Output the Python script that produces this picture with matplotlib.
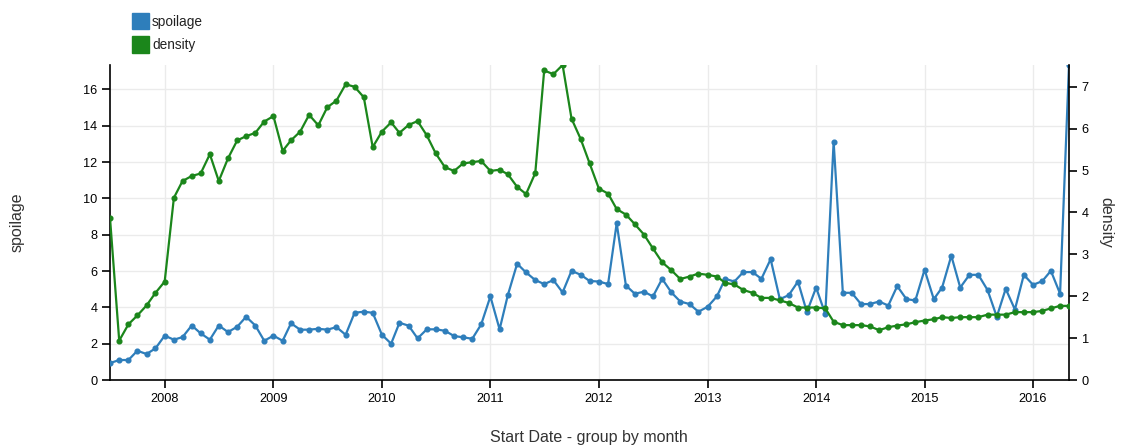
import matplotlib
matplotlib.use("Agg")
import matplotlib.pyplot as plt
import matplotlib.dates as mdates
from matplotlib.patches import Rectangle
import pandas as pd

start_month = "2007-07-01"

spoilage = [0.93, 1.10, 1.10, 1.61, 1.43, 1.74, 2.44, 2.22, 2.36, 3.00, 2.57, 2.22, 3.00, 2.64,
            2.93, 3.48, 3.00, 2.16, 2.44, 2.16, 3.12, 2.77, 2.77, 2.82, 2.77, 2.91, 2.49,
            3.70, 3.76, 3.70, 2.49, 2.00, 3.15, 2.99, 2.29, 2.79, 2.79, 2.71, 2.42, 2.35, 2.27,
            3.06, 4.60, 2.79, 4.69, 6.40, 5.92, 5.50, 5.28, 5.50, 4.82, 6.01, 5.79, 5.45,
            5.42, 5.28, 8.63, 5.20, 4.75, 4.86, 4.60, 5.57, 4.82, 4.32, 4.18, 3.76, 4.03, 4.60,
            5.57, 5.42, 5.94, 5.94, 5.57, 6.65, 4.45, 4.67, 5.42, 3.74, 5.09, 3.63,
            13.12, 4.80, 4.80, 4.18, 4.18, 4.32, 4.10, 5.17, 4.45, 4.38, 6.07, 4.45, 5.09, 6.84,
            5.09, 5.79, 5.79, 4.95, 3.48, 5.02, 3.88, 5.79, 5.24, 5.44, 6.01, 4.75, 17.34]

density = [3.87, 0.94, 1.33, 1.54, 1.78, 2.08, 2.35, 4.35, 4.75, 4.87, 4.93, 5.39, 4.75, 5.29,
           5.72, 5.82, 5.90, 6.17, 6.30, 5.47, 5.72, 5.93, 6.33, 6.08, 6.51, 6.67, 7.06,
           7.00, 6.75, 5.56, 5.93, 6.15, 5.90, 6.09, 6.18, 5.84, 5.41, 5.08, 4.99, 5.17, 5.20,
           5.23, 4.99, 5.02, 4.91, 4.61, 4.44, 4.94, 7.39, 7.30, 7.52, 6.24, 5.75, 5.17,
           4.57, 4.45, 4.08, 3.95, 3.72, 3.47, 3.14, 2.81, 2.62, 2.41, 2.47, 2.54, 2.51, 2.47,
           2.32, 2.28, 2.15, 2.08, 1.96, 1.96, 1.90, 1.84, 1.73, 1.73, 1.73, 1.71,
           1.39, 1.31, 1.31, 1.31, 1.28, 1.19, 1.26, 1.30, 1.33, 1.38, 1.42, 1.45, 1.50, 1.48,
           1.50, 1.50, 1.50, 1.56, 1.56, 1.56, 1.62, 1.62, 1.62, 1.65, 1.71, 1.77, 1.77]

left_ticks = [0, 2, 4, 6, 8, 10, 12, 14, 16]
right_ticks = [0, 1, 2, 3, 4, 5, 6, 7]
series_names = ["spoilage", "density"]
x_title = "Start Date - group by month"

dates = pd.date_range(start_month, periods=len(spoilage), freq="MS")

BLUE = "#2e7ebb"
GREEN = "#1b861b"
plt.rcParams["font.family"] = ["Liberation Sans", "DejaVu Sans"]

W, H = 1121, 448
fig = plt.figure(figsize=(W / 100, H / 100), dpi=100)
L, R, T, B = 110, 1069, 65, 380
ax = fig.add_axes([L / W, 1 - B / H, (R - L) / W, (B - T) / H])
ax2 = ax.twinx()

ax.plot(dates, spoilage, color=BLUE, lw=1.6, marker="o", ms=3.4, zorder=3)
ax2.plot(dates, density, color=GREEN, lw=1.6, marker="o", ms=3.4, zorder=3)

ax.set_xlim(dates[0], dates[-1])
ax.set_ylim(0, max(spoilage))
ax2.set_ylim(0, max(density))
ax.set_yticks(left_ticks)
ax2.set_yticks(right_ticks)
ax.xaxis.set_major_locator(mdates.YearLocator())
ax.xaxis.set_major_formatter(mdates.DateFormatter("%Y"))

ax.grid(True, color="#ebebeb", lw=1)
ax.set_axisbelow(True)
for a in (ax, ax2):
    a.spines["top"].set_visible(False)
    for s in ("left", "right", "bottom"):
        a.spines[s].set_color("black")
        a.spines[s].set_linewidth(1.2)
    a.tick_params(direction="out", length=6, width=1.2, labelsize=9.2, colors="black", pad=3)
ax.spines["right"].set_visible(False)
ax2.spines["left"].set_visible(False)
ax2.spines["bottom"].set_visible(False)

fig.text(17 / W, 1 - 222 / H, "spoilage", rotation=90, ha="center", va="center",
         fontsize=11.5, color="#333333")
fig.text(1106 / W, 1 - 222 / H, "density", rotation=270, ha="center", va="center",
         fontsize=11.5, color="#333333")
fig.text(589 / W, 1 - 437 / H, x_title, ha="center", va="center", fontsize=11.5, color="#333333")

for k, (name, col) in enumerate(zip(series_names, [BLUE, GREEN])):
    y0 = 13 + k * 23.5
    fig.add_artist(Rectangle((132 / W, 1 - (y0 + 16.5) / H), 16.5 / W, 16.5 / H,
                             transform=fig.transFigure, color=col))
    fig.text(152 / W, 1 - (y0 + 9) / H, name, ha="left", va="center", fontsize=9.8, color="#222222")

fig.savefig("out.png", dpi=100)
